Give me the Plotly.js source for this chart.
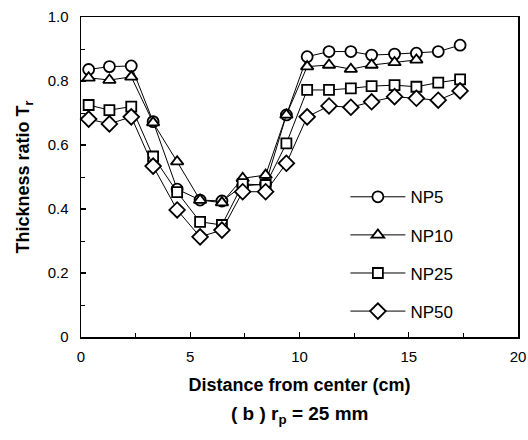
<!DOCTYPE html>
<html>
<head>
<meta charset="utf-8">
<script src="https://cdn.plot.ly/plotly-3.0.1.min.js"></script>
<style>html,body{margin:0;padding:0;background:#fff;}#chart{width:528px;height:440px;}</style>
</head>
<body>
<div id="chart"></div>
<script>
// Distance from center (cm)
const xAll = [0.35, 1.3, 2.3, 3.3, 4.4, 5.45, 6.45, 7.4, 8.45, 9.4, 10.35, 11.35, 12.35, 13.3, 14.35, 15.35, 16.35, 17.35];
const xNP10 = xAll.slice(0, 16);
// Thickness ratio Tr
const np5  = [0.836, 0.845, 0.847, 0.673, 0.462, 0.428, 0.425, 0.472, 0.478, 0.694, 0.876, 0.892, 0.892, 0.881, 0.884, 0.887, 0.892, 0.912];
const np10 = [0.810, 0.803, 0.813, 0.670, 0.548, 0.428, 0.420, 0.496, 0.506, 0.694, 0.845, 0.850, 0.837, 0.850, 0.858, 0.866];
const np25 = [0.725, 0.709, 0.720, 0.564, 0.453, 0.360, 0.350, 0.478, 0.475, 0.605, 0.772, 0.772, 0.777, 0.784, 0.787, 0.782, 0.795, 0.805];
const np50 = [0.681, 0.666, 0.688, 0.534, 0.397, 0.313, 0.334, 0.454, 0.454, 0.543, 0.688, 0.722, 0.718, 0.735, 0.751, 0.746, 0.740, 0.769];
const names = ["NP5", "NP10", "NP25", "NP50"];
const symbols = ["circle", "triangle-up", "square", "diamond"];
const xTickVals = [0, 5, 10, 15, 20];
const xTickText = ["0", "5", "10", "15", "20"];
const yTickVals = [0, 0.2, 0.4, 0.6, 0.8, 1.0];
const yTickText = ["0", "0.2", "0.4", "0.6", "0.8", "1.0"];

const xs = [xAll, xNP10, xAll, xAll];
const ys = [np5, np10, np25, np50];
const sizes = [11, 11, 10, 12];

const FONT = "Liberation Sans, Arial, Helvetica, sans-serif";

const traces = ys.map((y, i) => ({
  x: xs[i], y: y, name: names[i], type: "scatter", mode: "lines+markers",
  legendgroup: names[i],
  line: {color: "#000", width: 1},
  marker: {symbol: symbols[i], size: sizes[i], color: "#fff", line: {color: "#000", width: 1.8}},
  cliponaxis: false
}));

const layout = {
  width: 528, height: 440,
  margin: {l: 81, r: 10, t: 17, b: 103},
  paper_bgcolor: "#fff", plot_bgcolor: "#fff",
  font: {family: FONT, color: "#000", size: 14},
  showlegend: true,
  legend: {
    x: 0.605, y: 0.493, xanchor: "left", yanchor: "top",
    bgcolor: "rgba(0,0,0,0)", borderwidth: 0,
    font: {family: FONT, size: 17, color: "#000"},
    itemwidth: 55,
    tracegroupgap: 13
  },
  xaxis: {
    range: [0, 20], tickvals: xTickVals, ticktext: xTickText,
    ticks: "inside", ticklen: 5, tickcolor: "#000", tickwidth: 1.2,
    minor: {dtick: 2.5, ticks: "inside", ticklen: 4, tickcolor: "#000", tickwidth: 1},
    showline: true, linecolor: "#000", linewidth: 1.5, mirror: true,
    showgrid: false, zeroline: false,
    ticklabelstandoff: 5,
    tickfont: {family: FONT, size: 15, color: "#000"},
    title: {text: "<b>Distance from center (cm)</b>", font: {family: FONT, size: 18, color: "#000"}, standoff: 15}
  },
  yaxis: {
    range: [0, 1.0], tickvals: yTickVals, ticktext: yTickText,
    ticks: "inside", ticklen: 5, tickcolor: "#000", tickwidth: 1.2,
    minor: {dtick: 0.1, ticks: "inside", ticklen: 4, tickcolor: "#000", tickwidth: 1},
    showline: true, linecolor: "#000", linewidth: 1.5, mirror: true,
    showgrid: false, zeroline: false,
    ticklabelstandoff: 8,
    tickfont: {family: FONT, size: 15, color: "#000"},
    title: {text: "<b>Thickness ratio T<sub>r</sub></b>", font: {family: FONT, size: 18, color: "#000"}, standoff: 13}
  },
  annotations: [{
    text: "<b>( b ) r<sub>p</sub> = 25 mm</b>",
    xref: "paper", yref: "paper", x: 0.5, y: -0.2, yanchor: "top", xanchor: "center",
    showarrow: false, font: {family: FONT, size: 19, color: "#000"}
  }]
};

Plotly.newPlot("chart", traces, layout, {displayModeBar: false, staticPlot: true});
</script>
</body>
</html>
